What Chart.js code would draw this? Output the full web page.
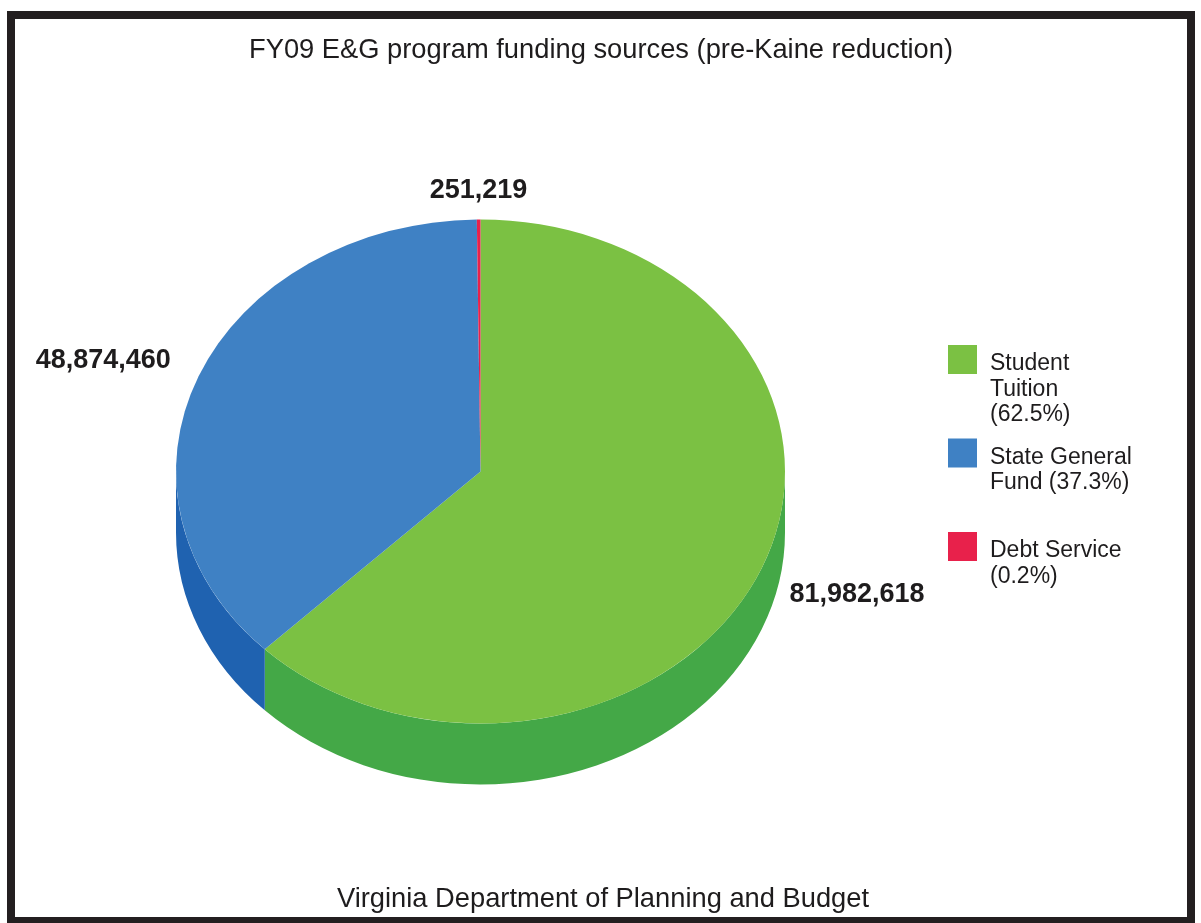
<!DOCTYPE html>
<html>
<head>
<meta charset="utf-8">
<title>FY09 E&amp;G program funding sources</title>
<script src="https://cdn.jsdelivr.net/npm/chart.js@4.4.1/dist/chart.umd.min.js"></script>
<style>
  html, body { margin: 0; padding: 0; background: #ffffff; }
  #wrap { position: relative; width: 1201px; height: 923px; overflow: hidden; }
  #frame { position: absolute; left: 7px; top: 11px; width: 1172px; height: 898px; border: 8px solid #231f20; }
  #c { position: absolute; left: 0; top: 0; }
</style>
</head>
<body>
<div id="wrap">
  <div id="frame"></div>
  <canvas id="c" width="1201" height="923"></canvas>
</div>
<script>
// Funding sources and amounts (dollars)
const categories = ['Student Tuition', 'State General Fund', 'Debt Service'];
const amounts = [81982618, 48874460, 251219];

// Face colours and the darker colours of the pie's rim
const topColors = ['#7bc143', '#3f81c4', '#e8214b'];
const sideColors = ['#44a847', '#1f62b0', '#b5173a'];

const chartTitle = 'FY09 E&G program funding sources (pre-Kaine reduction)';
const chartSource = 'Virginia Department of Planning and Budget';

const TILT = 252 / 304.5;   // vertical squash of the pie face
const DEPTH = 61;           // rim thickness in pixels
const FONT = '"Liberation Sans", Arial, Helvetica, sans-serif';
const INK = '#1e1c1d';

const total = amounts.reduce((a, b) => a + b, 0);
const pct = v => (v / total * 100).toFixed(1) + '%';
const fmt = v => v.toLocaleString('en-US');

function arcProps(arc) {
  return arc.getProps(['x', 'y', 'startAngle', 'endAngle', 'outerRadius'], true);
}

// Draws the rim, squashes the face into an ellipse, and adds labels, legend and captions
const pie3d = {
  id: 'pie3d',
  beforeDatasetsDraw(chart) {
    const ctx = chart.ctx;
    const arcs = chart.getDatasetMeta(0).data;
    const rims = chart.data.datasets[0].rimColor;
    arcs.forEach((arc, i) => {
      const p = arcProps(arc);
      const ry = p.outerRadius * TILT;
      for (const off of [0, 2 * Math.PI]) {
        const a0 = Math.max(p.startAngle, off);
        const a1 = Math.min(p.endAngle, off + Math.PI);
        if (a1 <= a0) continue;
        ctx.beginPath();
        ctx.ellipse(p.x, p.y, p.outerRadius, ry, 0, a0, a1, false);
        ctx.ellipse(p.x, p.y + DEPTH, p.outerRadius, ry, 0, a1, a0, true);
        ctx.closePath();
        ctx.fillStyle = rims[i];
        ctx.fill();
      }
    });
    const cy = arcs[0].y;
    ctx.save();
    ctx.translate(0, cy);
    ctx.scale(1, TILT);
    ctx.translate(0, -cy);
  },
  afterDatasetsDraw(chart) {
    const ctx = chart.ctx;
    ctx.restore();
    const arcs = chart.getDatasetMeta(0).data;
    const values = chart.data.datasets[0].data;

    // value labels outside the slices
    ctx.save();
    ctx.fillStyle = INK;
    ctx.font = 'bold 27px ' + FONT;
    ctx.textBaseline = 'alphabetic';
    arcs.forEach((arc, i) => {
      const p = arcProps(arc);
      const mid = (p.startAngle + p.endAngle) / 2;
      const c = Math.cos(mid), s = Math.sin(mid);
      const ax = p.x + (p.outerRadius + 30) * c;
      let ay = p.y + (p.outerRadius * TILT + 22) * s;
      ctx.textAlign = c > 0.2 ? 'left' : (c < -0.2 ? 'right' : 'center');
      if (s > 0.2) ay += 25;
      ctx.fillText(fmt(values[i]), ax, ay);
    });
    ctx.restore();
  },
  afterDraw(chart) {
    const ctx = chart.ctx;
    const labels = chart.data.labels;
    const values = chart.data.datasets[0].data;
    const colors = chart.data.datasets[0].backgroundColor;
    ctx.save();
    ctx.fillStyle = INK;
    ctx.textBaseline = 'alphabetic';

    // title and source line
    ctx.font = '27.3px ' + FONT;
    ctx.textAlign = 'center';
    ctx.fillText(chartTitle, 601, 58);
    ctx.fillText(chartSource, 603, 907);

    // legend with word-wrapped entries
    ctx.font = '23px ' + FONT;
    ctx.textAlign = 'left';
    const maxW = 150, lineH = 25.5, slot = 93.5;
    labels.forEach((name, i) => {
      const words = (name + ' (' + pct(values[i]) + ')').split(' ');
      const lines = [];
      let cur = '';
      words.forEach(w => {
        const t = cur ? cur + ' ' + w : w;
        if (cur && ctx.measureText(t).width > maxW) { lines.push(cur); cur = w; }
        else cur = t;
      });
      lines.push(cur);
      const base = 370 + i * slot;
      ctx.fillStyle = colors[i];
      ctx.fillRect(948, base - 25, 29, 29);
      ctx.fillStyle = INK;
      lines.forEach((ln, k) => ctx.fillText(ln, 990, base + k * lineH));
    });
    ctx.restore();
  }
};

new Chart(document.getElementById('c'), {
  type: 'pie',
  data: {
    labels: categories,
    datasets: [{
      data: amounts,
      backgroundColor: topColors,
      rimColor: sideColors,
      borderWidth: 0,
      hoverOffset: 0,
      offset: 0,
      clip: false
    }]
  },
  options: {
    responsive: false,
    animation: false,
    events: [],
    layout: { padding: { left: 176, right: 416, top: 167, bottom: 147 } },
    plugins: {
      legend: { display: false },
      title: { display: false },
      tooltip: { enabled: false }
    }
  },
  plugins: [pie3d]
});
</script>
</body>
</html>
